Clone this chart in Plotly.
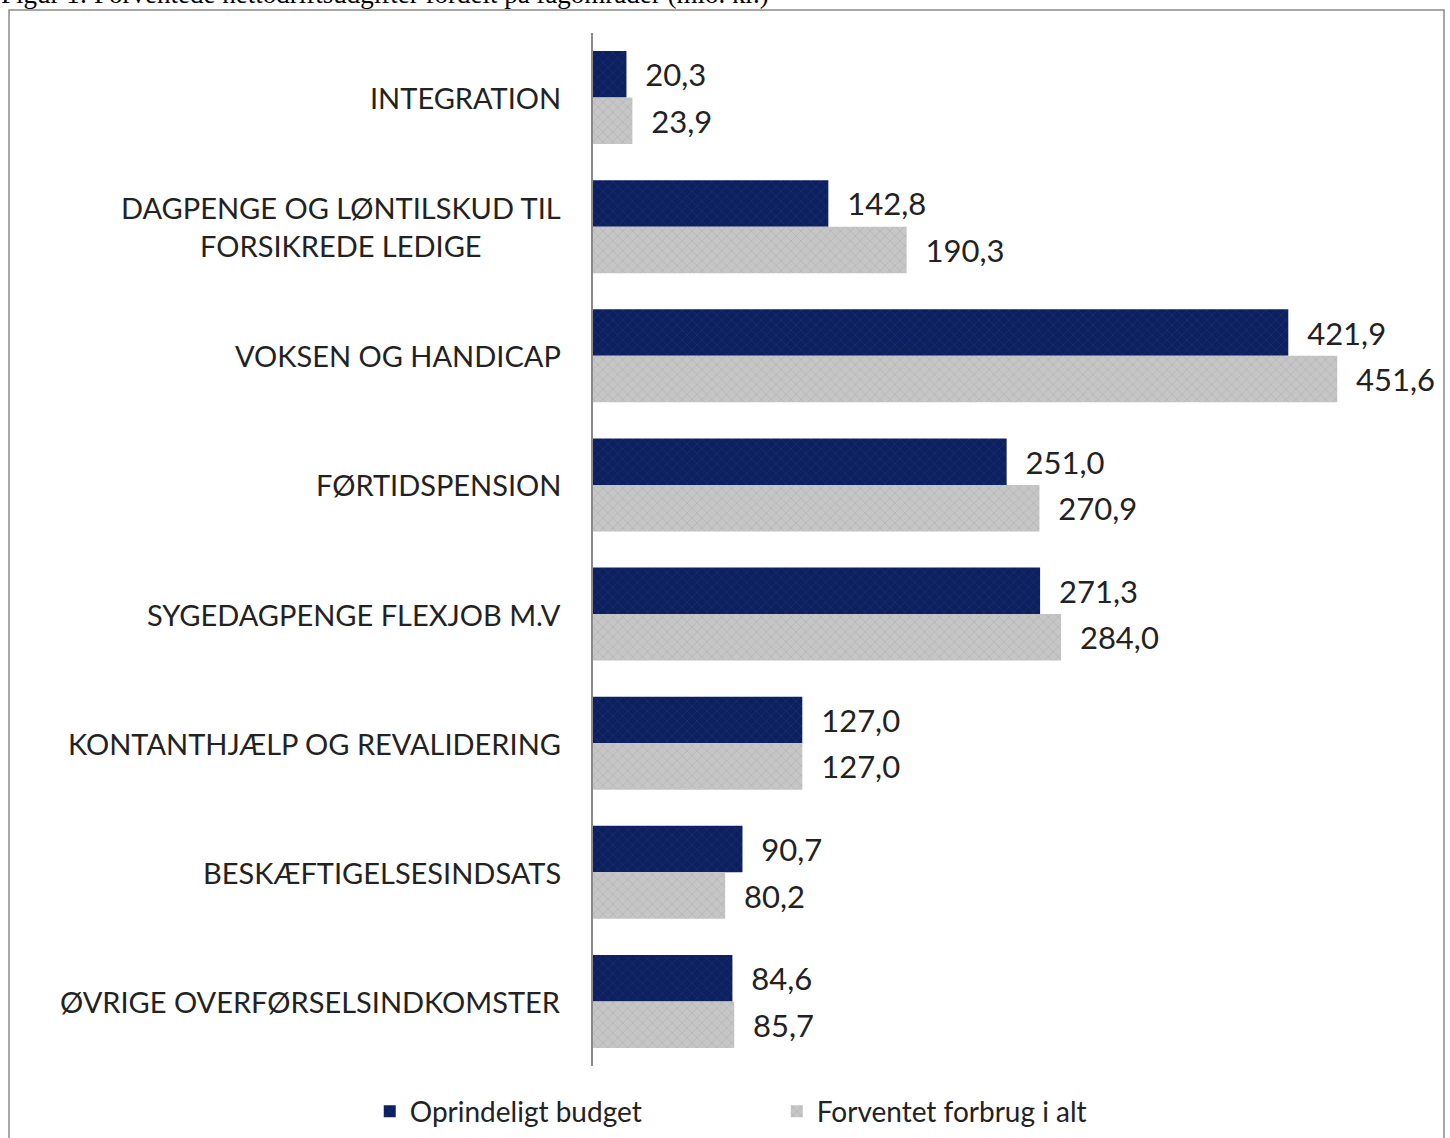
import plotly.graph_objects as go

categories = [
    "INTEGRATION",
    "DAGPENGE OG LØNTILSKUD TIL<br>FORSIKREDE LEDIGE",
    "VOKSEN OG HANDICAP",
    "FØRTIDSPENSION",
    "SYGEDAGPENGE FLEXJOB M.V",
    "KONTANTHJÆLP OG REVALIDERING",
    "BESKÆFTIGELSESINDSATS",
    "ØVRIGE OVERFØRSELSINDKOMSTER",
]
budget = [20.3, 142.8, 421.9, 251.0, 271.3, 127.0, 90.7, 84.6]
forbrug = [23.9, 190.3, 451.6, 270.9, 284.0, 127.0, 80.2, 85.7]
series_names = ["Oprindeligt budget", "Forventet forbrug i alt"]
title_text = "Figur 1: Forventede nettodriftsudgifter fordelt på fagområder (mio. kr.)"

FONT = "Lato, 'Open Sans', sans-serif"
NAVY = "#0c1f5f"
GRAY = "#c6c6c6"

fig = go.Figure()
fig.add_trace(go.Bar(
    y=categories, x=budget, orientation="h", name=series_names[0],
    marker=dict(color=NAVY, line=dict(width=0),
                pattern=dict(shape="x", fgcolor="#22387a", bgcolor=NAVY, size=7, solidity=0.25)),
    texttemplate="  %{x:.1f}", textposition="outside",
    textfont=dict(family=FONT, size=31, color="#222222"), cliponaxis=False,
))
fig.add_trace(go.Bar(
    y=categories, x=forbrug, orientation="h", name=series_names[1],
    marker=dict(color=GRAY, line=dict(width=0),
                pattern=dict(shape="x", fgcolor="#a9a9a9", bgcolor=GRAY, size=7, solidity=0.25)),
    texttemplate="  %{x:.1f}", textposition="outside",
    textfont=dict(family=FONT, size=31, color="#222222"), cliponaxis=False,
))

annotations = [
    dict(x=0, xref="paper", y=c, yref="y", text=c, showarrow=False,
         xanchor="right", xshift=-30, align="center",
         font=dict(family=FONT, size=29, color="#222222"))
    for c in categories
]
annotations.append(dict(
    x=-0.7197, xref="paper", y=1.0223, yref="paper", text=title_text,
    showarrow=False, xanchor="left", yanchor="bottom", borderpad=0,
    font=dict(family="'Liberation Serif', 'Times New Roman', serif", size=27, color="#000000"),
))

fig.update_layout(
    width=1450, height=1138,
    margin=dict(l=593, r=33, t=33, b=72, autoexpand=False),
    paper_bgcolor="white", plot_bgcolor="white",
    barmode="group", bargap=0.28, bargroupgap=0.0,
    separators=",.",
    showlegend=True,
    legend=dict(orientation="h", x=0.223, xanchor="center", y=-0.044, yanchor="middle",
                font=dict(family=FONT, size=28, color="#222222"),
                entrywidth=362, traceorder="normal"),
    xaxis=dict(range=[0, 500], showticklabels=False, showgrid=False, zeroline=False,
               showline=False, fixedrange=True),
    yaxis=dict(autorange="reversed", showticklabels=False, showgrid=False,
               showline=True, linecolor="#8a8a8a", linewidth=1.5, ticks=""),
    annotations=annotations,
    shapes=[dict(type="rect", xref="paper", yref="paper",
                 x0=-0.7087, x1=1.0328, y0=-0.075, y1=1.0223,
                 line=dict(color="#8a8a8a", width=1.5), fillcolor="rgba(0,0,0,0)")],
)

fig.write_html("out.html", config={"displayModeBar": False},
               post_script="document.body.style.margin='0';document.body.style.overflow='hidden';")
